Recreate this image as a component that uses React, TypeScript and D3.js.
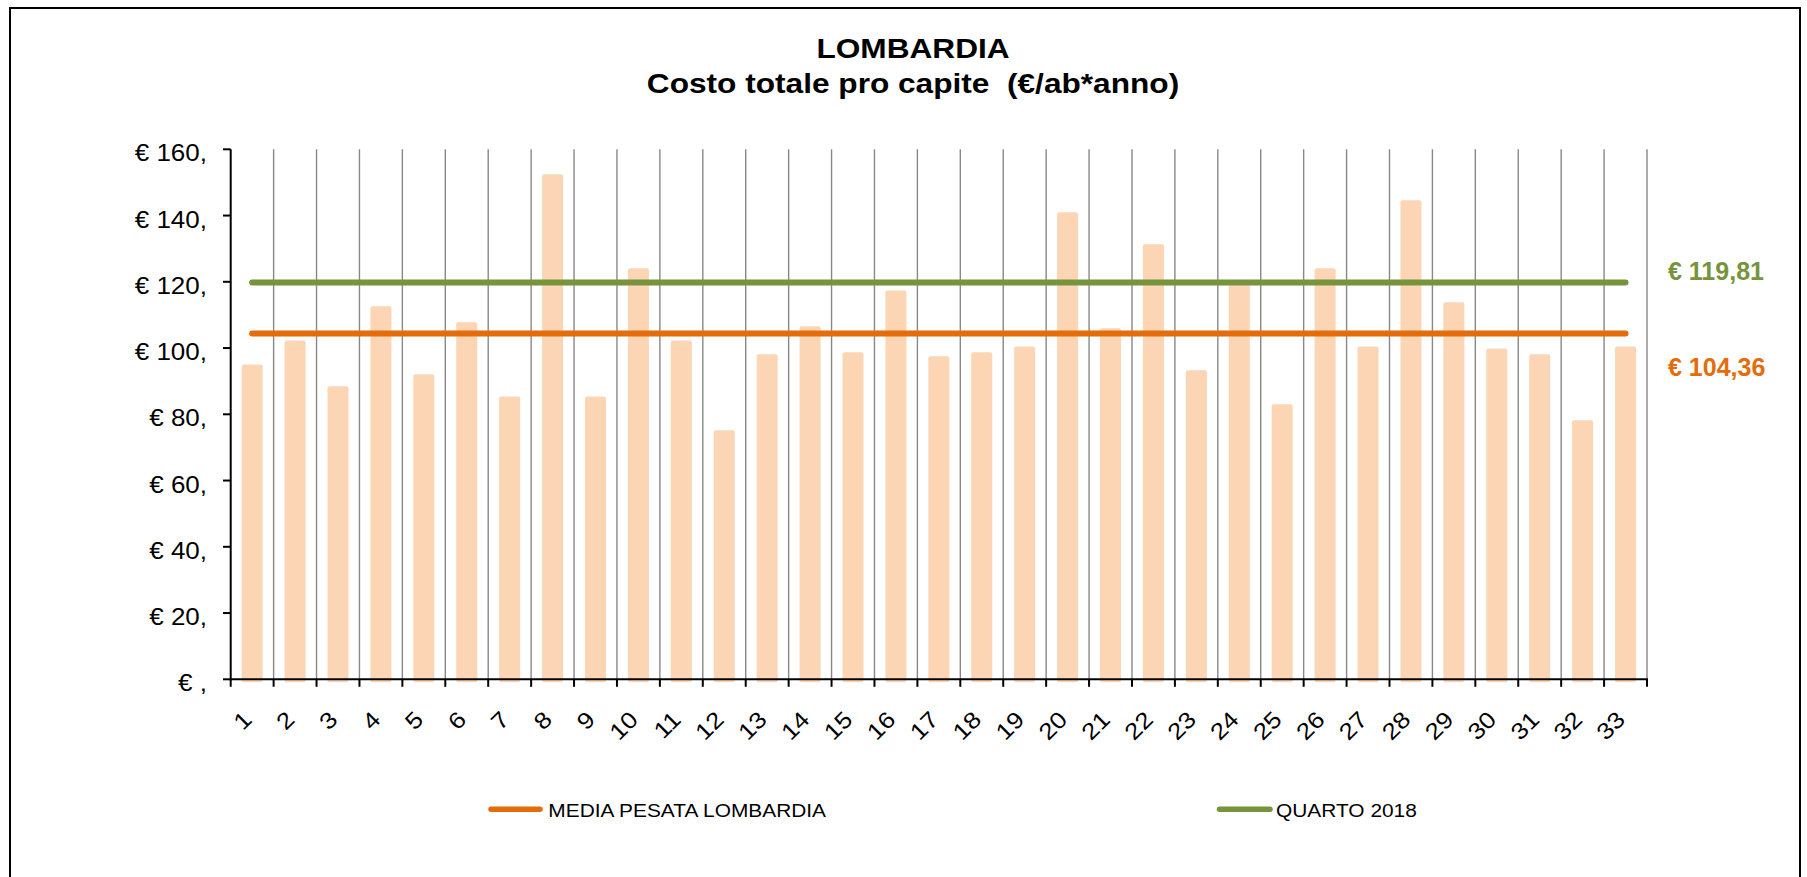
import React from "react";
import * as d3 from "d3";

const categories: string[] = Array.from({ length: 33 }, (_, i) => String(i + 1));
const costValues: number[] = [
  95.0, 102.3, 88.5, 112.6, 92.1, 107.8, 85.4, 152.5, 85.4, 124.1,
  102.3, 75.2, 98.1, 106.6, 98.7, 117.4, 97.5, 98.7, 100.5, 141.0,
  106.0, 131.3, 93.3, 120.4, 83.0, 124.1, 100.5, 144.6, 113.8, 99.9,
  98.1, 78.2, 100.5,
];
const mediaPesata = 104.36;
const quarto2018 = 119.81;
const yTicks: number[] = [0, 20, 40, 60, 80, 100, 120, 140, 160];
const yTickLabels: string[] = ["€ ,", "€ 20,", "€ 40,", "€ 60,", "€ 80,", "€ 100,", "€ 120,", "€ 140,", "€ 160,"];
const refLabels: string[] = ["€ 104,36", "€ 119,81"];
const legendLabels: string[] = ["MEDIA PESATA LOMBARDIA", "QUARTO 2018"];
const titleLines: string[] = ["LOMBARDIA", "Costo totale pro capite  (€/ab*anno)"];

const W = 1807;
const H = 877;
const FONT = "'Liberation Sans', Arial, Helvetica, sans-serif";
const ORANGE = "#E46C0A";
const GREEN = "#77933C";
const BAR = "#FCD5B5";
const SX = 1.13;

export default function App() {
  const x = d3.scaleBand<string>().domain(categories).range([230.7, 1647]).padding(0);
  const y = d3.scaleLinear().domain([0, 160]).range([679.3, 149.3]);
  const bw = x.bandwidth();
  const barW = bw * 0.49;
  const boundaries = d3.range(categories.length + 1).map((i) => 230.7 + i * bw);
  const c0 = (x(categories[0]) ?? 0) + bw / 2;
  const cN = (x(categories[categories.length - 1]) ?? 0) + bw / 2;
  const lineGen = d3.line<[number, number]>().x((d) => d[0]).y((d) => d[1]);

  const stretched = (tx: number, ty: number, content: React.ReactNode, key?: string) => (
    <g key={key} transform={`translate(${tx},${ty}) scale(${SX},1)`}>{content}</g>
  );

  return (
    <svg width={W} height={H} style={{ position: "absolute", left: 0, top: 0, background: "#fff" }}>
      <rect x={0} y={0} width={W} height={H} fill="#fff" />
      <rect x={10} y={8} width={1790} height={900} fill="none" stroke="#000" strokeWidth={2} />

      {/* title */}
      {stretched(913, 58, <text textAnchor="middle" fontFamily={FONT} fontWeight="bold" fontSize={28} fill="#000">{titleLines[0]}</text>)}
      {stretched(913, 93, <text textAnchor="middle" fontFamily={FONT} fontWeight="bold" fontSize={28} fill="#000" style={{ whiteSpace: "pre" }} xmlSpace="preserve">{titleLines[1]}</text>)}

      {/* gridlines */}
      {boundaries.slice(1).map((bx, i) => (
        <line key={"g" + i} x1={bx} x2={bx} y1={y(160)} y2={y(0)} stroke="#888" strokeWidth={1.4} />
      ))}

      {/* bars */}
      {costValues.map((v, i) => {
        const cx = (x(categories[i]) ?? 0) + bw / 2;
        return (
          <rect key={"b" + i} x={cx - barW / 2} y={y(v)} width={barW} height={y(0) - y(v) + 3} rx={2} fill={BAR} />
        );
      })}

      {/* reference lines */}
      <path d={lineGen([[c0, y(quarto2018)], [cN, y(quarto2018)]]) ?? ""} stroke={GREEN} strokeWidth={6} strokeLinecap="round" fill="none" />
      <path d={lineGen([[c0, y(mediaPesata)], [cN, y(mediaPesata)]]) ?? ""} stroke={ORANGE} strokeWidth={6} strokeLinecap="round" fill="none" />

      {/* axes */}
      <line x1={230.7} x2={230.7} y1={y(160)} y2={y(0) + 1} stroke="#000" strokeWidth={2} />
      <line x1={229.7} x2={1648} y1={y(0)} y2={y(0)} stroke="#000" strokeWidth={2} />
      {yTicks.map((t, i) => (
        <g key={"yt" + i}>
          <line x1={223} x2={230.7} y1={y(t)} y2={y(t)} stroke="#000" strokeWidth={2} />
          {stretched(207, y(t) + 12, <text textAnchor="end" fontFamily={FONT} fontSize={23} fill="#000">{yTickLabels[i]}</text>)}
        </g>
      ))}
      {boundaries.map((bx, i) => (
        <line key={"xt" + i} x1={bx} x2={bx} y1={y(0)} y2={y(0) + 7.5} stroke="#000" strokeWidth={2} />
      ))}
      {categories.map((c, i) => {
        const cx = (x(c) ?? 0) + bw / 2;
        return (
          <text key={"xl" + i} transform={`translate(${cx + 1},721) rotate(-45) scale(${SX},1)`} textAnchor="end" fontFamily={FONT} fontSize={23} fill="#000">{c}</text>
        );
      })}

      {/* value labels */}
      <text x={1668} y={280} fontFamily={FONT} fontWeight="bold" fontSize={25} fill={GREEN}>{refLabels[1]}</text>
      <text x={1668} y={376} fontFamily={FONT} fontWeight="bold" fontSize={25} fill={ORANGE}>{refLabels[0]}</text>

      {/* legend */}
      <line x1={491} x2={540} y1={809.3} y2={809.3} stroke={ORANGE} strokeWidth={5.5} strokeLinecap="round" />
      {stretched(548.3, 816.7, <text fontFamily={FONT} fontSize={18.5} fill="#000">{legendLabels[0]}</text>)}
      <line x1={1219.5} x2={1270} y1={809.3} y2={809.3} stroke={GREEN} strokeWidth={5.5} strokeLinecap="round" />
      {stretched(1276, 816.7, <text fontFamily={FONT} fontSize={18.5} fill="#000">{legendLabels[1]}</text>)}
    </svg>
  );
}
